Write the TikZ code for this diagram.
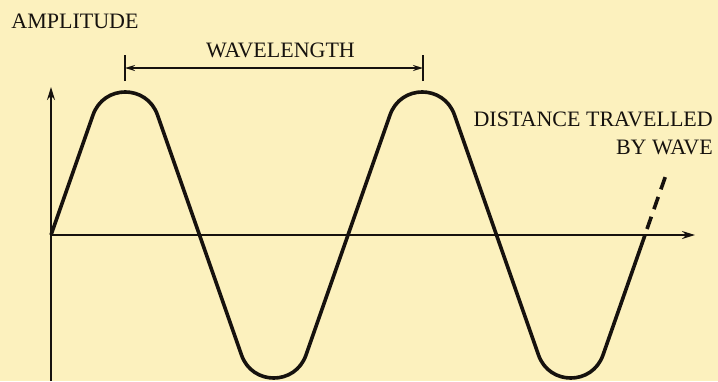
\documentclass[tikz,border=0pt]{standalone}
\usepackage{fontspec}
\setmainfont{Liberation Serif}
\usetikzlibrary{positioning,arrows.meta}
\definecolor{paper}{RGB}{252,241,190}
\definecolor{ink}{RGB}{22,18,14}

\begin{document}
\begin{tikzpicture}[x=1pt, y=-1pt,
    every node/.style={font=\fontsize{22}{28}\selectfont, text=ink, inner sep=0pt},
    axis/.style={draw=ink, line width=1.8pt, -{Stealth[length=13pt,width=8pt]}},
    wave/.style={draw=ink, line width=3.6pt, line join=round},
    dim/.style={draw=ink, line width=1.6pt}]
    \fill[paper] (0,0) rectangle (718,381);
    \useasboundingbox (0,0) rectangle (718,381);
    \coordinate (o) at (51,235);
    \coordinate (ytop) at (51,87);
    \coordinate (ybot) at (51,381);
    \coordinate (xend) at (695,235);
    \draw[axis] (ybot) -- (ytop);
    \draw[axis] (o) -- (xend);
    % the wave, one half period per step
    \draw[wave] (o) \foreach \s in {-1,1,-1,1} {
        -- ++(42,120*\s) .. controls +(10.7,30.7*\s) and +(-10.7,30.7*\s) .. ++(64.5,0) -- ++(42,-120*\s)
      };
    \coordinate (dstart) at (647,229);
    \coordinate (dend) at (667,172);
    \draw[wave, dash pattern=on 13pt off 8pt] (dstart) -- (dend);
    % wavelength
    \coordinate (wl1) at (125,68);
    \coordinate (wl2) at (423,68);
    \coordinate (wlmid) at (280.5,68);
    \draw[dim] ([yshift=-13pt]wl1) -- ([yshift=13pt]wl1);
    \draw[dim] ([yshift=-13pt]wl2) -- ([yshift=13pt]wl2);
    \draw[dim, {Stealth[length=10pt,width=6pt]}-{Stealth[length=10pt,width=6pt]}] (wl1) -- (wl2);
    \node[above=10pt of wlmid] (wavelength) {WAVELENGTH};
    \node (amp) at (75,21.5) {AMPLITUDE};
    \node[anchor=east] (dist) at (713,119.5) {DISTANCE TRAVELLED};
    \node[below left=13pt and 0pt of dist.south east] (bywave) {BY WAVE};
  \end{tikzpicture}
\end{document}
